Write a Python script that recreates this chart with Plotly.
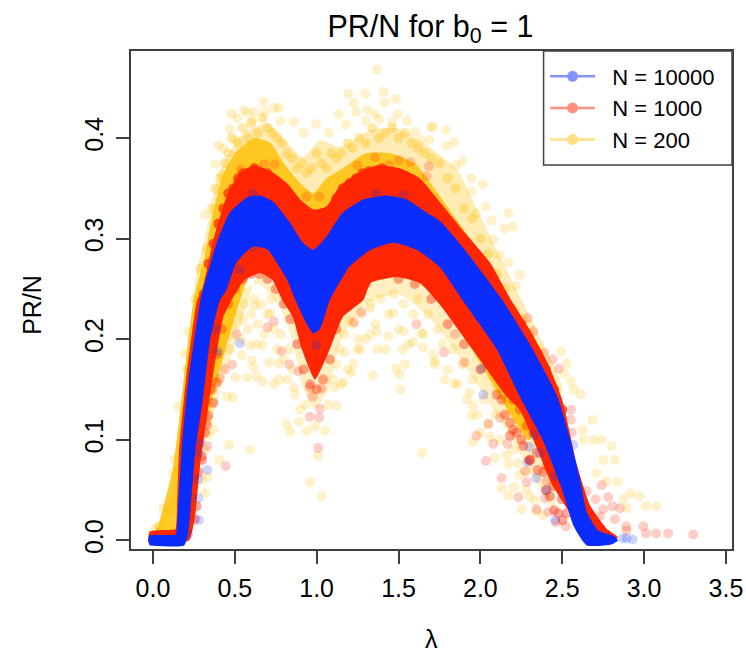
import plotly.graph_objects as go

series_names = ["N = 10000", "N = 1000", "N = 200"]
blue = "#0A2CFF"
red = "#FF2600"
yellow = "#FFC107"

# Saturated core of each cloud (lambda, PR/N)
lam_blue_core = [-.03,-.02,.14,.145,.175,.215,.29,.305,.39,.47,.574,.654,.733,.837,.916,.98,1.06,1.16,1.285,1.43,1.55,1.69,1.75,1.89,2.13,2.32,2.47,2.55,2.61,2.65,2.72,2.82,2.84,2.80,2.65,2.57,2.50,2.38,2.24,2.10,1.89,1.75,1.61,1.47,1.33,1.20,1.10,1.08,1.02,.98,.94,.87,.82,.70,.61,.51,.45,.41,.35,.305,.26,.215,.19,-.02]
pr_blue_core = [.0,.005,.006,.012,.09,.157,.239,.249,.296,.326,.341,.343,.337,.316,.296,.289,.302,.326,.339,.343,.339,.324,.318,.292,.24,.19,.143,.10,.06,.028,.010,.004,.0,-.004,-.005,.014,.05,.10,.143,.19,.239,.272,.289,.296,.289,.272,.245,.239,.21,.206,.215,.239,.259,.289,.292,.276,.249,.239,.20,.14,.09,.008,-.005,-.005]

lam_red_core = [-.03,-.02,.135,.14,.16,.2,.27,.30,.37,.45,.53,.62,.73,.82,.90,.98,1.06,1.14,1.25,1.37,1.51,1.63,1.75,1.89,2.06,2.18,2.30,2.41,2.50,2.59,2.67,2.77,2.84,2.70,2.44,2.35,2.24,2.16,2.04,1.92,1.75,1.63,1.49,1.33,1.285,1.16,1.08,.99,.91,.855,.79,.73,.654,.56,.48,.43,.40,.37,.33,.287,.257,.22,-.02]
pr_red_core = [.0,.009,.011,.012,.09,.157,.239,.249,.299,.342,.365,.373,.366,.355,.339,.329,.332,.352,.365,.373,.370,.360,.337,.309,.276,.241,.21,.177,.14,.075,.035,.012,.003,-.004,.055,.09,.13,.143,.17,.197,.235,.256,.262,.256,.239,.222,.19,.16,.19,.222,.239,.259,.266,.259,.239,.222,.197,.167,.123,.073,.024,.0,-.004]

lam_yellow_core = [.0,.03,.06,.12,.16,.25,.32,.36,.42,.50,.62,.72,.80,.90,.98,1.06,1.16,1.30,1.45,1.60,1.72,1.85,2.0,2.12,2.3,2.3,1.5,.7,.3,.2,.0]
pr_yellow_core = [.005,.013,.031,.07,.12,.24,.285,.32,.36,.385,.40,.395,.375,.355,.345,.36,.37,.385,.385,.375,.35,.32,.285,.25,.2,.1,.3,.3,.1,.0,.0]

lam_yellow_upper = [.12,.2,.27,.32,.37,.43,.55,.70,.82,.92,1.02,1.14,1.33,1.49,1.69,1.86,1.98,2.10,2.20,2.38,2.5,2.3,1.5,.7,.3,.2]
pr_yellow_upper = [.05,.17,.27,.302,.345,.375,.405,.415,.395,.381,.398,.391,.408,.41,.391,.368,.329,.289,.256,.197,.15,.1,.3,.3,.1,.03]

lam_yellow_lower = [.3,.36,.42,.5,.65,.78,.85,.92,.99,1.07,1.15,1.3,1.5,1.7,1.9,2.1,2.3,2.45,2.4,1.5,.7]
pr_yellow_lower = [.09,.16,.21,.245,.255,.23,.20,.15,.13,.15,.20,.235,.245,.22,.175,.125,.07,.03,.12,.3,.3]

# Scattered points, read one by one
lam_yellow_pts = [1.37,1.193,1.295,1.409,1.484,1.415,1.228,1.240,1.309,1.136,1.383,1.495,1.356,1.301,1.177,.996,.861,.920,1.076,.678,.768,.741,.684,.558,.480,.619,.578,.609,.517,.780,.470,.401,.430,.381,.418,.503,1.702,1.601,1.553,1.462,1.634,1.687,.318,
1.790,1.709,1.841,1.794,1.890,1.851,1.945,2.014,1.946,2.034,2.171,2.199,2.146,2.069,1.973,2.079,2.171,2.241,2.217,2.116,
2.491,2.531,2.513,2.552,2.572,2.613,2.684,2.625,2.629,2.737,2.690,2.802,2.751,2.822,2.710,2.771,2.839,2.916,2.971,3.012,3.073,2.873,2.893,
1.784,1.841,1.723,1.936,1.956,1.946,1.997,1.953,2.059,2.089,2.174,2.130,2.205,2.171,2.252,2.303,2.232,2.283,2.343,
.464,.594,.405,.334,.959,1.030,1.008,1.643,.817,.839,.939,.892,1.051,.990,1.122,1.148,1.511,1.506,1.484,1.539,1.344,1.212,1.224,1.163,1.105,.505,.576,.633,.670,.739,.770,.821,.860,.487,.452,.613,.708,.766,.592,.633,.670,.542,.603,.369,.338,.318,1.370,1.525,1.264,1.173,1.590,1.651,1.722,1.438,1.326,1.254,1.366,1.530,1.642,1.468,1.326,1.204,.623,.714,.552,.195,.216,.124,.155,.134,.063,
.42,.45,.47,.49,.52,.54,.56,.58,.60,.62,.64,.66,.68,.70,.72,.74,.76,.78,.80,.83,.85,.87,.90,.93,1.07,1.10,1.12,1.14,1.17,1.19,1.22,1.25,1.27,1.30,1.33,1.36,1.39,1.42,1.44,1.47,1.50,1.53,1.56,1.59,1.62,1.65,1.68,1.71,1.74,1.77,1.80,1.83,1.86,1.89,1.92,1.95,1.98,2.02,2.05,2.09,2.12,2.16,2.20,2.24,2.28,2.33,2.38,.38,.36,.34,.32,.30]
pr_yellow_pts = [.468,.444,.444,.446,.439,.435,.435,.426,.428,.424,.419,.424,.424,.417,.413,.414,.416,.405,.405,.436,.430,.430,.426,.428,.424,.426,.425,.417,.420,.417,.409,.393,.390,.374,.364,.398,.411,.406,.417,.416,.398,.398,.324,
.408,.411,.396,.392,.377,.373,.360,.354,.347,.332,.325,.312,.310,.318,.325,.299,.276,.264,.253,.284,
.188,.176,.166,.158,.150,.145,.120,.110,.100,.100,.100,.094,.080,.080,.067,.059,.058,.047,.044,.034,.034,.041,.032,
.160,.156,.175,.147,.134,.124,.107,.098,.103,.082,.076,.052,.053,.045,.031,.044,.077,.068,.029,
.095,.090,.080,.063,.058,.044,.084,.087,.115,.108,.109,.118,.109,.113,.134,.155,.150,.165,.171,.175,.164,.167,.176,.157,.152,.162,.162,.163,.158,.155,.160,.160,.152,.142,.143,.172,.177,.176,.194,.195,.194,.184,.179,.110,.105,.047,.190,.190,.190,.187,.197,.192,.178,.203,.205,.200,.208,.208,.206,.226,.231,.219,.233,.226,.219,.186,.208,.067,.133,.081,.032,
.19,.205,.19,.215,.225,.20,.235,.21,.225,.24,.215,.235,.205,.225,.24,.21,.19,.205,.18,.19,.17,.145,.13,.135,.135,.16,.175,.19,.205,.17,.215,.19,.225,.20,.235,.215,.24,.19,.225,.245,.21,.235,.195,.225,.24,.205,.225,.185,.21,.195,.17,.19,.155,.175,.14,.16,.125,.14,.115,.125,.10,.085,.09,.065,.05,.04,.025,.16,.135,.12,.09,.06]

lam_yellow_edge = [.33,.36,.38,.41,.44,.46,.48,.52,.55,.58,.60,.64,.67,.70,.73,.76,.79,.82,.85,.88,.91,.94,.97,1.0,1.03,1.06,1.09,1.12,1.15,1.19,1.22,1.26,1.3,1.34,1.38,1.42,1.46,1.5,1.54,1.58,1.62,1.66,1.7,1.75,1.8,1.85,1.9,1.95,2.0,2.05,2.1,2.15,2.2,2.25,2.3,2.35,2.4,2.45,.16,.19,.21,.24,.26,.29,.14,.1,.07,.04,.02]
pr_yellow_edge = [.29,.33,.35,.36,.375,.385,.40,.395,.41,.40,.415,.405,.42,.41,.405,.40,.395,.385,.38,.37,.375,.365,.37,.385,.375,.37,.385,.38,.385,.395,.39,.40,.395,.41,.40,.405,.41,.40,.405,.395,.39,.385,.38,.375,.36,.35,.33,.32,.30,.285,.265,.25,.23,.22,.205,.19,.17,.15,.07,.12,.17,.20,.24,.27,.04,.03,.02,.014,.012]

lam_red_top = [.31,.34,.37,.40,.43,.46,.49,.52,.55,.58,.62,.66,.70,.74,.77,.80,.84,.88,.92,.96,1.0,1.04,1.08,1.12,1.16,1.2,1.24,1.28,1.32,1.36,1.4,1.44,1.48,1.52,1.56,1.6,1.64,1.68,1.72,1.76,1.8,1.85,1.9,1.95,2.0,2.05,2.1,2.15,2.2,2.25,2.3,2.35,2.4,2.45,2.5]
pr_red_top = [.245,.275,.295,.315,.33,.345,.35,.36,.365,.365,.37,.365,.365,.355,.35,.35,.34,.33,.32,.315,.32,.32,.325,.34,.35,.355,.36,.365,.367,.365,.37,.365,.365,.36,.36,.35,.345,.34,.33,.325,.315,.305,.295,.285,.275,.265,.25,.24,.225,.215,.20,.185,.17,.15,.13]

lam_red_low = [.30,.33,.36,.39,.42,.46,.5,.55,.6,.65,.7,.75,.8,.84,.88,.92,.96,1.0,1.04,1.08,1.12,1.18,1.25,1.3,1.4,1.5,1.6,1.7,1.8,1.9,2.0,2.1,2.15,2.2,2.25,2.3,2.35,2.4,2.45,2.5,
2.242,2.201,2.283,2.324,2.364,2.262,2.405,2.303,2.445,2.497,2.527,2.160,2.130,2.181,2.222,2.181,2.344,2.384,2.425,2.476,.369,.338,.318,.298,.277,.267,.256,.389]
pr_red_low = [.08,.115,.15,.185,.21,.235,.25,.26,.265,.265,.26,.25,.235,.22,.195,.17,.155,.15,.16,.18,.21,.235,.245,.255,.265,.26,.255,.24,.215,.195,.17,.145,.125,.11,.10,.08,.07,.05,.03,.02,
.130,.140,.114,.107,.097,.094,.074,.080,.054,.041,.027,.153,.140,.117,.107,.104,.087,.068,.044,.027,.137,.124,.107,.084,.068,.034,.021,.157]

lam_red_pts = [.786,.833,.888,.485,.440,.409,.511,.444,.332,1.010,.959,1.030,.975,1.020,1.016,.959,1.228,1.610,1.274,.700,.739,
1.356,1.574,1.504,1.443,1.248,1.686,.745,.680,.537,1.016,.939,1.672,
2.289,2.324,2.390,2.441,2.480,2.554,2.552,2.558,2.649,2.704,2.741,2.781,2.853,2.808,2.751,2.893,2.995,3.012,3.073,3.148,3.301,2.893,2.822,2.730,2.130,2.034,2.079,1.977,2.166,2.048,2.120,1.778,1.902,1.845,2.232,2.343,2.462,2.523,2.414,2.283,2.405,2.395,2.272,2.303]
pr_red_pts = [.188,.175,.168,.175,.170,.161,.205,.074,.094,.092,.152,.151,.143,.131,.122,.123,.217,.215,.227,.212,.218,
.381,.376,.378,.373,.373,.372,.374,.374,.369,.342,.342,.362,
.221,.208,.186,.180,.171,.130,.120,.107,.049,.041,.055,.043,.032,.034,.031,.014,.014,.007,.007,.007,.006,.010,.021,.024,.062,.079,.096,.104,.096,.116,.122,.187,.177,.205,.043,.031,.018,.014,.028,.058,.059,.042,.069,.079]

lam_blue_pts = [2.018,2.008,2.299,2.287,2.340,2.405,2.456,2.869,2.893,2.930,2.327,2.364,2.455,2.567,.531,.399,.385,.332,.281,.277,.277,.291,.277,.216,.996,.531,.612,1.366,1.53,.612]
pr_blue_pts = [.145,.171,.093,.078,.062,.050,.020,.002,.002,.001,.105,.087,.064,.095,.196,.188,.210,.070,.020,.042,.061,.097,.087,.006,.194,.269,.292,.345,.343,.345]

x_ticks = [0.0,0.5,1.0,1.5,2.0,2.5,3.0,3.5]
y_ticks = [0.0,0.1,0.2,0.3,0.4]

fig = go.Figure()

def band(x, y, rgba):
    fig.add_trace(go.Scatter(x=x, y=y, mode="lines", fill="toself", fillcolor=rgba,
                             line=dict(width=0, color=rgba, shape="spline", smoothing=0.5),
                             showlegend=False, hoverinfo="skip"))

def dots(x, y, color, alpha):
    fig.add_trace(go.Scatter(x=x, y=y, mode="markers", showlegend=False,
                             marker=dict(size=10, color=color, opacity=alpha, line=dict(width=0))))

band(lam_yellow_upper, pr_yellow_upper, "rgba(255,193,7,0.3)")
band(lam_yellow_lower, pr_yellow_lower, "rgba(255,193,7,0.25)")
dots(lam_yellow_pts, pr_yellow_pts, yellow, 0.22)
dots(lam_yellow_edge, pr_yellow_edge, yellow, 0.35)
band(lam_yellow_core, pr_yellow_core, "rgba(255,193,7,0.85)")
dots(lam_red_pts, pr_red_pts, red, 0.22)
dots(lam_red_low, pr_red_low, red, 0.4)
dots(lam_red_top, pr_red_top, red, 0.7)
band(lam_red_core, pr_red_core, red)
band(lam_blue_core, pr_blue_core, blue)
dots(lam_blue_pts, pr_blue_pts, blue, 0.2)

for name, c in zip(series_names, [blue, red, yellow]):
    fig.add_trace(go.Scatter(x=[None], y=[None], mode="lines+markers", name="\u00a0\u00a0" + name, opacity=0.5,
                             line=dict(color=c, width=2.5), marker=dict(color=c, size=11)))

axis_common = dict(showgrid=False, zeroline=False, showline=True, mirror=True, linecolor="#404040",
                   linewidth=1.5, ticks="outside", ticklen=13, tickwidth=1.5, tickcolor="#404040",
                   tickfont=dict(size=25, color="black"), automargin=False)
fig.update_xaxes(range=[-0.134, 3.537], tickvals=x_ticks, tickformat=".1f", ticklabelstandoff=3,
                 **axis_common)
fig.update_yaxes(range=[-0.0085, 0.4866], tickvals=y_ticks, tickformat=".1f", tickangle=-90, ticklabelstandoff=3,
                 **axis_common)

fig.add_shape(type="rect", xref="paper", yref="paper", x0=0.6865, x1=1, y0=0.771, y1=1,
              line=dict(color="#404040", width=1.5), fillcolor="rgba(0,0,0,0)", layer="above")

fig.add_annotation(text="λ", xref="paper", yref="paper", x=0.5, y=-0.181, yanchor="middle",
                   showarrow=False, font=dict(size=25, color="black"))
fig.add_annotation(text="PR/N", xref="paper", yref="paper", x=-0.165, y=0.49, textangle=-90, xanchor="center",
                   showarrow=False, font=dict(size=25, color="black"))

fig.update_layout(
    width=746, height=655, autosize=False,
    margin=dict(l=131, r=14, t=51, b=106),
    paper_bgcolor="white", plot_bgcolor="white",
    font=dict(family="Liberation Sans, Arial, sans-serif", color="black"),
    title=dict(text="PR/N for b<sub>0</sub> = 1", font=dict(size=30.5, color="black"),
               x=0.577, xanchor="center", y=0.96, yanchor="middle"),
    legend=dict(x=0.689, xanchor="left", y=0.991, yanchor="top", bgcolor="rgba(0,0,0,0)",
                borderwidth=0, font=dict(size=22, color="black"), itemwidth=45),
)
fig.write_html("out.html", config=dict(displayModeBar=False, responsive=False),
               default_width=746, default_height=655,
               post_script="document.body.style.margin='0';document.body.style.overflow='hidden';")
